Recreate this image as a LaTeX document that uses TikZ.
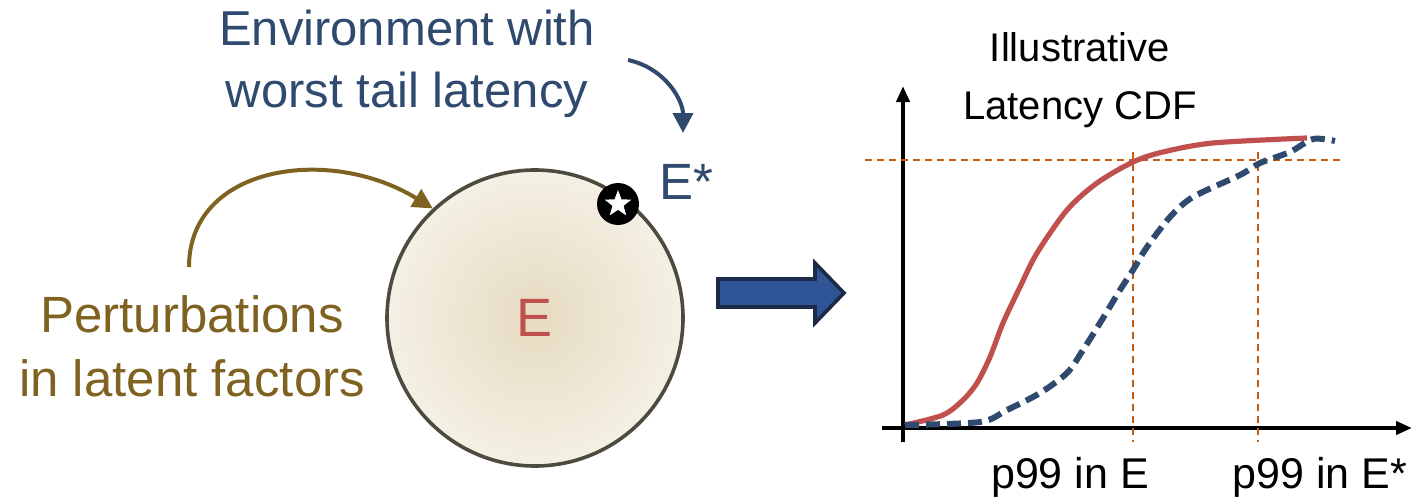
\documentclass[tikz,border=0pt]{standalone}
\usepackage{fontspec}
\setmainfont{Liberation Sans}
\usepackage{tikz}
\usetikzlibrary{shapes.geometric, arrows.meta, positioning, calc}

\definecolor{envblue}{HTML}{2F4A6E}
\definecolor{perturb}{HTML}{7F6120}
\definecolor{ered}{HTML}{C0504D}
\definecolor{guideorange}{HTML}{C55A11}
\definecolor{rimgray}{HTML}{4D4A3E}
\definecolor{blockfill}{HTML}{2F5597}
\definecolor{blockrim}{HTML}{1B2A47}
\definecolor{envinner}{HTML}{E6DBC0}
\definecolor{envouter}{HTML}{F4F0E5}

\begin{document}
\begin{tikzpicture}[x=0.5pt, y=-0.5pt,
    lbl/.style={align=center, font=\fontsize{24.5}{31}\selectfont},
    small/.style={align=center, font=\fontsize{20}{29}\selectfont},
    bendarr/.style={line width=2pt, -{Triangle[length=10pt,width=10pt]}},
    axis/.style={line width=2pt, -{Triangle[length=8pt,width=6.5pt]}},
    guide/.style={draw=guideorange, line width=1.1pt, dash pattern=on 3.5pt off 2.5pt},
    cdf/.style={line width=2.6pt, line join=round}
]
\useasboundingbox (0,0) rectangle (1419,503);

% left part: environment space
\node[circle, draw=rimgray, line width=1.8pt, inner color=envinner, outer color=envouter,
      minimum size=148pt, text=ered, font=\fontsize{27}{30}\selectfont] (env) at (535,318) {E};
\node[circle, fill=black, minimum size=21pt, inner sep=0] (worst) at (618,204) {};
\node[star, star points=5, star point ratio=2.4, fill=white, minimum size=14pt, inner sep=0] (wstar) at (worst) {};
\node[lbl, text=envblue, font=\fontsize{25.5}{31}\selectfont] (estar) at (686,182) {E*};

\node[lbl, text=envblue] (envtxt) at (407,64) {Environment with\\worst tail latency};
\node[lbl, text=perturb, font=\fontsize{25.5}{32}\selectfont] (perttxt) at (192,346) {Perturbations\\in latent factors};

\coordinate (tailstart) at (628,60);
\coordinate (tailend) at (683,133);
\coordinate (pertstart) at (189,267);

\draw[bendarr, envblue] (tailstart) .. controls (665,68) and (683,100) .. (tailend);
\draw[bendarr, perturb] (pertstart) .. controls (189,165) and (330,145) .. (env.133);

% block arrow
\draw[fill=blockfill, draw=blockrim, line width=1.8pt, line join=miter]
    (718,279) -- (815,279) -- (815,263) -- (844,293) -- (815,323) -- (815,307) -- (718,307) -- cycle;

% right part: CDF plot
\coordinate (org) at (903,428);
\coordinate (ytop) at (903,86);
\coordinate (xend) at (1412,428);
\coordinate (ylow) at (903,442);
\coordinate (xlow) at (882,428);
\draw[axis] (ylow) -- (ytop);
\draw[axis] (xlow) -- (xend);

\node[small] (title) at (1080,80) {Illustrative\\Latency CDF};

\coordinate (hl) at (865,160);
\coordinate (hr) at (1340,160);
\coordinate (pe) at (1133,152);
\coordinate (pes) at (1258,152);
\draw[guide] (hl) -- (hr);
\draw[guide] (pe) -- (pe |- ylow);
\draw[guide] (pes) -- (pes |- ylow);

\node[small, font=\fontsize{21.5}{26}\selectfont] (pelbl) at (1070,477) {p99 in E};
\node[small, font=\fontsize{21.5}{26}\selectfont] (peslbl) at (1320,477) {p99 in E*};

\draw[cdf, ered] plot[smooth, tension=0.5] coordinates {(905,425) (943,415) (963,400) (977,383) (990,357)
    (1003,323) (1020,287) (1037,253) (1067,210) (1097,183) (1133,162) (1163,152) (1213,143) (1307,138)};
\draw[cdf, envblue, line width=3pt, dash pattern=on 7pt off 3.5pt] plot[smooth, tension=0.5] coordinates {(905,425)
    (980,422) (1007,410) (1040,393) (1067,373) (1083,350) (1100,323) (1120,290) (1133,270) (1147,247)
    (1170,217) (1193,197) (1240,175) (1260,163) (1290,152) (1313,139) (1335,141)};
\end{tikzpicture}
\end{document}
